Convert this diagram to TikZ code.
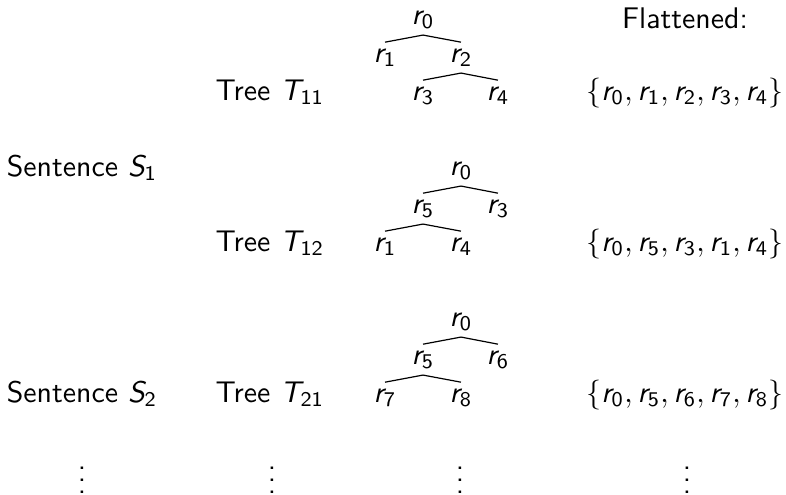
\documentclass[tikz,border=0pt]{standalone}
\usepackage{amsmath}
\usepackage{tikz}
% sans serif letters and digits in math, serif symbols
\DeclareSymbolFont{sfitalic}{OT1}{cmss}{m}{sl}
\DeclareSymbolFont{sfupright}{OT1}{cmss}{m}{n}
\DeclareMathSymbol{r}{\mathalpha}{sfitalic}{`r}
\DeclareMathSymbol{S}{\mathalpha}{sfitalic}{`S}
\DeclareMathSymbol{T}{\mathalpha}{sfitalic}{`T}
\DeclareMathSymbol{0}{\mathalpha}{sfupright}{`0}
\DeclareMathSymbol{1}{\mathalpha}{sfupright}{`1}
\DeclareMathSymbol{2}{\mathalpha}{sfupright}{`2}
\DeclareMathSymbol{3}{\mathalpha}{sfupright}{`3}
\DeclareMathSymbol{4}{\mathalpha}{sfupright}{`4}
\DeclareMathSymbol{5}{\mathalpha}{sfupright}{`5}
\DeclareMathSymbol{6}{\mathalpha}{sfupright}{`6}
\DeclareMathSymbol{7}{\mathalpha}{sfupright}{`7}
\DeclareMathSymbol{8}{\mathalpha}{sfupright}{`8}

\begin{document}
\begin{tikzpicture}[x=0.335pt,y=-0.335pt,font=\sffamily,
  lbl/.style={anchor=base,inner sep=0pt},
  rnode/.style={anchor=base,inner sep=2pt},
  branch/.style={line width=0.4pt}]
\useasboundingbox (0,0) rectangle (786,494);
\node[lbl] (flat) at (685,28) {Flattened:};
% first sentence, first tree
\node[rnode] (a0) at (423,24) {$r_0$};
\node[rnode] (a1) at (385,62) {$r_1$};
\node[rnode] (a2) at (461,62) {$r_2$};
\node[rnode] (a3) at (423,100) {$r_3$};
\node[rnode] (a4) at (498,100) {$r_4$};
\draw[branch] (a1.north) -- (a0.south) -- (a2.north);
\draw[branch] (a3.north) -- (a2.south) -- (a4.north);
\node[lbl] (tA) at (270,100) {Tree $T_{11}$};
\node[lbl] (fA) at (685,100) {$\{r_0,r_1,r_2,r_3,r_4\}$};
\node[lbl] (sA) at (82,176) {Sentence $S_1$};
% first sentence, second tree
\node[rnode] (b0) at (461,175) {$r_0$};
\node[rnode] (b5) at (423,213) {$r_5$};
\node[rnode] (b3) at (498,213) {$r_3$};
\node[rnode] (b1) at (385,251) {$r_1$};
\node[rnode] (b4) at (461,251) {$r_4$};
\draw[branch] (b5.north) -- (b0.south) -- (b3.north);
\draw[branch] (b1.north) -- (b5.south) -- (b4.north);
\node[lbl] (tB) at (270,251) {Tree $T_{12}$};
\node[lbl] (fB) at (685,251) {$\{r_0,r_5,r_3,r_1,r_4\}$};
% second sentence
\node[rnode] (c0) at (461,326) {$r_0$};
\node[rnode] (c5) at (423,364) {$r_5$};
\node[rnode] (c6) at (498,364) {$r_6$};
\node[rnode] (c7) at (385,402) {$r_7$};
\node[rnode] (c8) at (461,402) {$r_8$};
\draw[branch] (c5.north) -- (c0.south) -- (c6.north);
\draw[branch] (c7.north) -- (c5.south) -- (c8.north);
\node[lbl] (sB) at (82,402) {Sentence $S_2$};
\node[lbl] (tC) at (270,402) {Tree $T_{21}$};
\node[lbl] (fC) at (685,402) {$\{r_0,r_5,r_6,r_7,r_8\}$};
% more rows
\node[lbl] (dS) at (82,493) {$\vdots$};
\node[lbl] (dT) at (272,493) {$\vdots$};
\node[lbl] (dR) at (460,493) {$\vdots$};
\node[lbl] (dF) at (687,493) {$\vdots$};
\end{tikzpicture}
\end{document}
